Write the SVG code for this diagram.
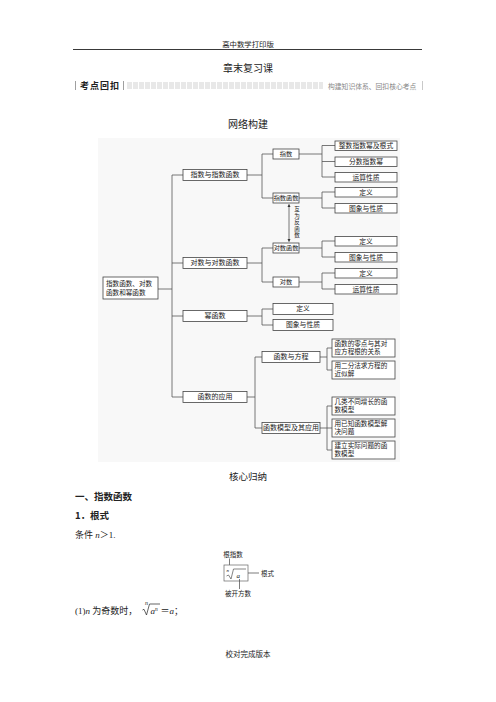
<svg xmlns="http://www.w3.org/2000/svg" width="496" height="702" viewBox="0 0 496 702">
<style>
text{font-family:"Liberation Serif","Noto Sans CJK SC",serif;fill:#222}
.b{fill:#fff;stroke:#444;stroke-width:0.8}
.c{fill:none;stroke:#555;stroke-width:0.8}
.n1{font-size:7px;text-anchor:middle}
.n2{font-size:6.2px;text-anchor:middle}
.n3{font-size:6.8px;text-anchor:middle}
.nl{font-size:6.6px}
.t{font-size:9px}
.h{font-size:9.5px;font-weight:bold;font-family:"Noto Sans CJK SC","Liberation Sans",sans-serif}
</style>
<defs>
<pattern id="dots" x="127" y="82" width="6" height="7" patternUnits="userSpaceOnUse">
<rect x="0" y="0" width="5" height="7" fill="#e8e8e8"/>
</pattern>
<marker id="ah" viewBox="0 0 6 6" refX="5" refY="3" markerWidth="4" markerHeight="4" orient="auto-start-reverse">
<path d="M0 0L6 3L0 6z" fill="#333"/>
</marker>
</defs>
<rect width="496" height="702" fill="#fff"/>

<!-- header -->
<text x="248" y="47" font-size="7.4" text-anchor="middle">高中数学打印版</text>
<line x1="73" y1="49.5" x2="422" y2="49.5" stroke="#222" stroke-width="0.9"/>
<text x="248" y="72" font-size="10" text-anchor="middle">章末复习课</text>
<g id="banner">
<line x1="75.5" y1="81" x2="75.5" y2="90" stroke="#888" stroke-width="0.8"/>
<text x="80" y="89" font-size="9" font-weight="bold" letter-spacing="1" font-family="Noto Sans CJK SC,sans-serif">考点回扣</text>
<line x1="123.5" y1="81" x2="123.5" y2="90" stroke="#888" stroke-width="0.8"/>
<rect x="127" y="82" width="196" height="7" fill="url(#dots)"/>
<text x="328" y="88.5" font-size="6.8" style="fill:#888">构建知识体系、回扣核心考点</text>
<line x1="422.5" y1="81" x2="422.5" y2="90" stroke="#bbb" stroke-width="0.8"/>
</g>
<text x="248" y="128" font-size="10" text-anchor="middle">网络构建</text>

<!-- diagram background -->
<rect x="98" y="138" width="302" height="324" fill="#f8f8f8"/>

<g id="connectors">
<path class="c" d="M158 289H172M172 175V397M172 175H183M172 263H183M172 316H183M172 397H183"/>
<path class="c" d="M247 175H262M262 154V198M262 154H273M262 198H273"/>
<path class="c" d="M247 263H262M262 248V282M262 248H273M262 282H273"/>
<path class="c" d="M247 316H262M262 309V325M262 309H273M262 325H273"/>
<path class="c" d="M247 397H255M255 357V428M255 357H262M255 428H262"/>
<path class="c" d="M299 154H322M322 145.5V177M322 145.5H335M322 161.5H335M322 177H335"/>
<path class="c" d="M299 198H322M322 192V208M322 192H335M322 208H335"/>
<path class="c" d="M299 248H322M322 241V257M322 241H335M322 257H335"/>
<path class="c" d="M299 282H322M322 273V289M322 273H335M322 289H335"/>
<path class="c" d="M320 357H327M327 348V370M327 348H332M327 370H332"/>
<path class="c" d="M320 428H327M327 406V450M327 406H332M327 428H332M327 450H332"/>
<path class="c" d="M289 204.5V241.5" stroke="#333" marker-start="url(#ah)" marker-end="url(#ah)"/>
</g>
<g id="inverse-label">
<text x="297" y="211" text-anchor="middle" font-size="5.5">互</text>
<text x="297" y="217.5" text-anchor="middle" font-size="5.5">为</text>
<text x="297" y="224" text-anchor="middle" font-size="5.5">反</text>
<text x="297" y="230.5" text-anchor="middle" font-size="5.5">函</text>
<text x="297" y="237" text-anchor="middle" font-size="5.5">数</text>
</g>

<g id="root"><rect class="b" x="103" y="277" width="55" height="22"/>
<text class="nl" x="106" y="285.5">指数函数、对数</text><text class="nl" x="106" y="295">函数和幂函数</text></g>

<g id="n-zhishu-hanshu"><rect class="b" x="183" y="169.5" width="64" height="11"/><text class="n1" x="215" y="177.2">指数与指数函数</text></g>
<g id="n-duishu-hanshu"><rect class="b" x="183" y="257.5" width="64" height="11"/><text class="n1" x="215" y="265.2">对数与对数函数</text></g>
<g id="n-mihanshu"><rect class="b" x="183" y="310.5" width="64" height="11"/><text class="n1" x="215" y="318.2">幂函数</text></g>
<g id="n-yingyong"><rect class="b" x="183" y="391.5" width="64" height="11"/><text class="n1" x="215" y="399.2">函数的应用</text></g>

<g id="n-zhishu"><rect class="b" x="273" y="149" width="26" height="10"/><text class="n2" x="286" y="156.1">指数</text></g>
<g id="n-zhishuhanshu"><rect class="b" x="273" y="193" width="26" height="10"/><text class="n2" x="286" y="200.1">指数函数</text></g>
<g id="n-duishuhanshu"><rect class="b" x="273" y="243" width="26" height="10"/><text class="n2" x="286" y="250.1">对数函数</text></g>
<g id="n-duishu"><rect class="b" x="273" y="277" width="26" height="10"/><text class="n2" x="286" y="284.1">对数</text></g>

<g id="n-mi-dingyi"><rect class="b" x="273" y="303.5" width="60" height="11"/><text class="n3" x="303" y="311.2">定义</text></g>
<g id="n-mi-tuxiang"><rect class="b" x="273" y="319.5" width="60" height="11"/><text class="n3" x="303" y="327.2">图象与性质</text></g>
<g id="n-fangcheng"><rect class="b" x="262" y="351.5" width="58" height="11"/><text class="n1" x="291" y="359.2">函数与方程</text></g>
<g id="n-moxing"><rect class="b" x="262" y="422.5" width="58" height="11"/><text class="n1" x="291" y="430.2">函数模型及其应用</text></g>

<g id="n-zhengshu"><rect class="b" x="335" y="141" width="62" height="9.5"/><text class="n3" x="366" y="148">整数指数幂及根式</text></g>
<g id="n-fenshu"><rect class="b" x="335" y="157" width="62" height="9.5"/><text class="n3" x="366" y="164">分数指数幂</text></g>
<g id="n-yunsuan1"><rect class="b" x="335" y="172.5" width="62" height="9.5"/><text class="n3" x="366" y="179.5">运算性质</text></g>
<g id="n-dingyi1"><rect class="b" x="335" y="187.5" width="62" height="9.5"/><text class="n3" x="366" y="194.5">定义</text></g>
<g id="n-tuxiang1"><rect class="b" x="335" y="203.5" width="62" height="9.5"/><text class="n3" x="366" y="210.5">图象与性质</text></g>
<g id="n-dingyi2"><rect class="b" x="335" y="236.5" width="62" height="9.5"/><text class="n3" x="366" y="243.5">定义</text></g>
<g id="n-tuxiang2"><rect class="b" x="335" y="252.5" width="62" height="9.5"/><text class="n3" x="366" y="259.5">图象与性质</text></g>
<g id="n-dingyi3"><rect class="b" x="335" y="268.5" width="62" height="9.5"/><text class="n3" x="366" y="275.5">定义</text></g>
<g id="n-yunsuan2"><rect class="b" x="335" y="284.5" width="62" height="9.5"/><text class="n3" x="366" y="291.5">运算性质</text></g>

<g id="n-lingdian"><rect class="b" x="332" y="339" width="63" height="18"/><text class="nl" x="334.5" y="346">函数的零点与其对</text><text class="nl" x="334.5" y="354">应方程根的关系</text></g>
<g id="n-erfen"><rect class="b" x="332" y="361" width="63" height="18"/><text class="nl" x="334.5" y="368">用二分法求方程的</text><text class="nl" x="334.5" y="376">近似解</text></g>
<g id="n-zengzhang"><rect class="b" x="332" y="397" width="63" height="18"/><text class="nl" x="334.5" y="404">几类不同增长的函</text><text class="nl" x="334.5" y="412">数模型</text></g>
<g id="n-yizhi"><rect class="b" x="332" y="419" width="63" height="18"/><text class="nl" x="334.5" y="426">用已知函数模型解</text><text class="nl" x="334.5" y="434">决问题</text></g>
<g id="n-jianli"><rect class="b" x="332" y="441" width="63" height="18"/><text class="nl" x="334.5" y="448">建立实际问题的函</text><text class="nl" x="334.5" y="456">数模型</text></g>

<!-- body text -->
<text x="248" y="480" font-size="9.5" text-anchor="middle">核心归纳</text>
<text class="h" x="75" y="500">一、指数函数</text>
<text class="h" x="75" y="519">1．根式</text>
<text class="t" x="75" y="538">条件 <tspan font-style="italic">n</tspan>＞1.</text>

<g id="radical-figure">
<text x="233" y="557" font-size="6.5" text-anchor="middle">根指数</text>
<line x1="229.5" y1="558.5" x2="229.5" y2="567" stroke="#444" stroke-width="0.7"/>
<rect x="224" y="565" width="24" height="16" fill="#fff" stroke="#666" stroke-width="0.7"/>
<text x="226.5" y="572" font-size="5" font-style="italic">n</text>
<path d="M226.5 576L228.5 575L231 579L233.5 569H246" fill="none" stroke="#333" stroke-width="0.6"/>
<text x="236.5" y="578" font-size="7" font-style="italic">a</text>
<line x1="248" y1="573" x2="259" y2="573" stroke="#444" stroke-width="0.7"/>
<text x="261" y="576" font-size="6.5">根式</text>
<line x1="239.5" y1="579" x2="239.5" y2="589" stroke="#444" stroke-width="0.7"/>
<text x="225" y="596" font-size="6.5">被开方数</text>
</g>

<g id="formula">
<text class="t" x="75" y="614">(1)<tspan font-style="italic">n</tspan> 为奇数时，</text>
<text x="145" y="605" font-size="6" font-style="italic">n</text>
<path d="M142.5 610L144 609.3L146.5 615L149.5 604H160" fill="none" stroke="#222" stroke-width="0.7"/>
<text x="150.5" y="614" font-size="9" font-style="italic">a<tspan font-size="5.5" dy="-3.5">n</tspan></text>
<text class="t" x="160.5" y="614">＝<tspan font-style="italic">a</tspan>；</text>
</g>

<text x="248" y="657" font-size="7.5" text-anchor="middle">校对完成版本</text>
</svg>
